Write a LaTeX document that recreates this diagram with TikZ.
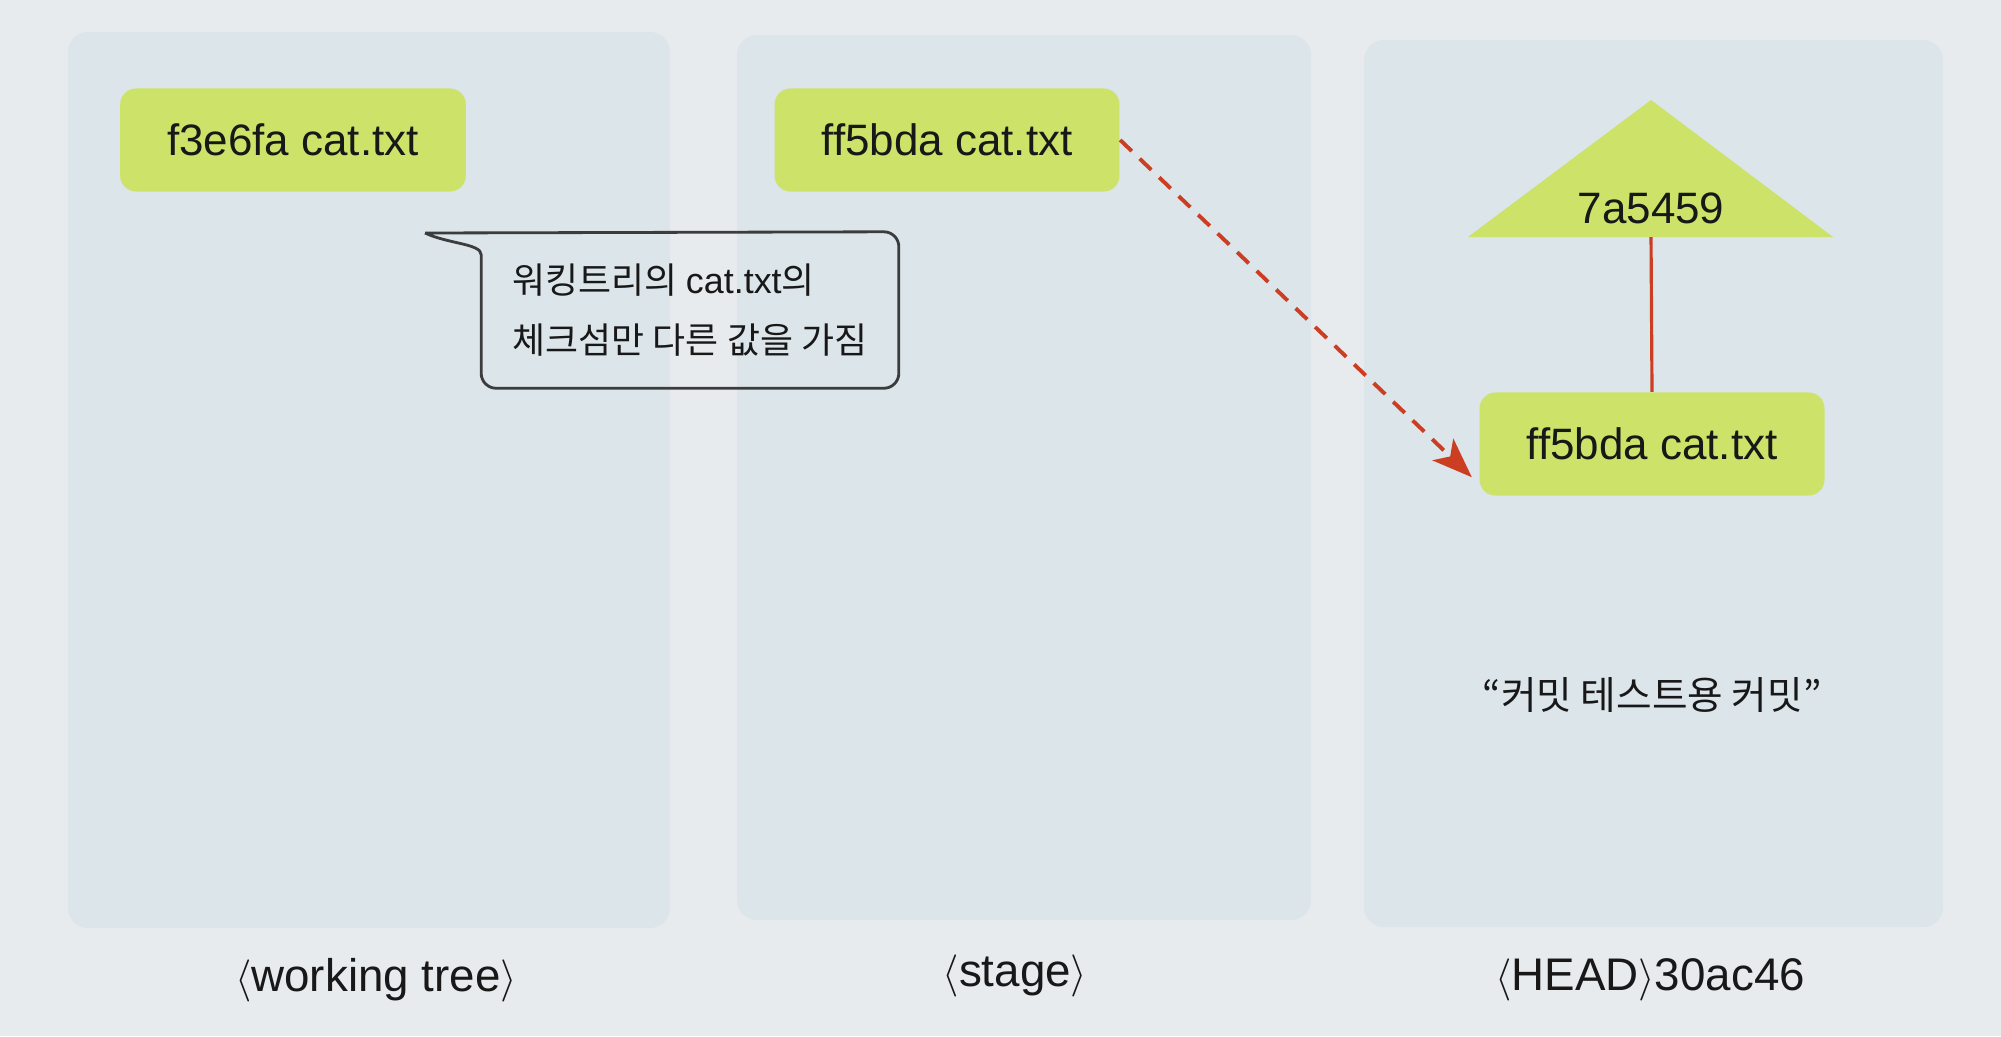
\documentclass[tikz,border=0pt]{standalone}
\usepackage{fontspec}
\setmainfont{Liberation Sans}
\newfontfamily\cjk{Noto Sans CJK KR}
\usetikzlibrary{arrows.meta,positioning}
\definecolor{gitBg}{RGB}{232,235,237}
\definecolor{gitPanel}{RGB}{219,229,234}
\definecolor{gitGreen}{RGB}{204,226,104}
\definecolor{gitRed}{RGB}{204,62,34}
\definecolor{gitInk}{RGB}{24,24,24}
\definecolor{noteLine}{RGB}{60,60,60}

\begin{document}
\begin{tikzpicture}[x=0.01cm, y=-0.01cm,
    filebox/.style={fill=gitGreen, rounded corners=0.16cm, inner xsep=0.47cm, minimum height=1.03cm, text=gitInk, font=\fontsize{12.5}{15}\selectfont},
    arealabel/.style={text=gitInk, font=\fontsize{13}{15}\selectfont},
    notetext/.style={text=gitInk, align=left, minimum width=4.16cm, minimum height=1.55cm, font=\cjk\fontsize{10.2}{17}\selectfont}]
\useasboundingbox (0,0) rectangle (2001,1036);
\fill[gitBg] (0,0) rectangle (2001,1036);

\foreach \xa/\ya/\xb/\yb in {68/32/670/928,737/35/1311/920,1364/40/1943/927}
{
    \fill[gitPanel, rounded corners=0.2cm] (\xa,\ya) rectangle (\xb,\yb);
}

\node[filebox] (wtfile) at (293,140) {f3e6fa cat.txt};
\node[filebox] (stagefile) at (947,140) {ff5bda cat.txt};
\node[filebox] (headfile) at (1652,444) {ff5bda cat.txt};

% commit tree
\fill[gitGreen] (1651,100) -- (1833,237) -- (1468,237) -- cycle;
\node[text=gitInk, font=\fontsize{12.5}{15}\selectfont] (commit) at (1651,208) {7a5459};
\coordinate (treebase) at (1651,237);
\draw[gitRed, line width=0.9pt] (treebase) -- (headfile.north);

\draw[gitRed, line width=1.1pt, dash pattern=on 0.16cm off 0.11cm, -{Stealth[length=0.4cm,width=0.3cm,inset=0.1cm]}]
    (stagefile.east) -- ([xshift=-0.07cm, yshift=0.19cm]headfile.south west);

% speech bubble
\node[notetext] (note) at (690,310) {워킹트리의 {\rmfamily cat.txt}의\\체크섬만 다른 값을 가짐};
\coordinate (tailtip) at (425,233);
\draw[noteLine, line width=0.8pt, rounded corners=0.15cm] (tailtip) -- (note.north east) -- (note.south east)
    -- (note.south west) -- ([yshift=-0.38cm]note.north west) [sharp corners] to[out=90, in=-25] (tailtip);

\node[text=gitInk, font=\cjk\fontsize{11}{14}\selectfont] (message) at (1652,695) {“커밋 테스트용 커밋”};

\node[arealabel] (wtlabel) at (376,980) {$\langle$working tree$\rangle$};
\node[arealabel] (stagelabel) at (1015,976) {$\langle$stage$\rangle$};
\node[arealabel] (headlabel) at (1650,980) {$\langle$HEAD$\rangle$30ac46};
\end{tikzpicture}
\end{document}
